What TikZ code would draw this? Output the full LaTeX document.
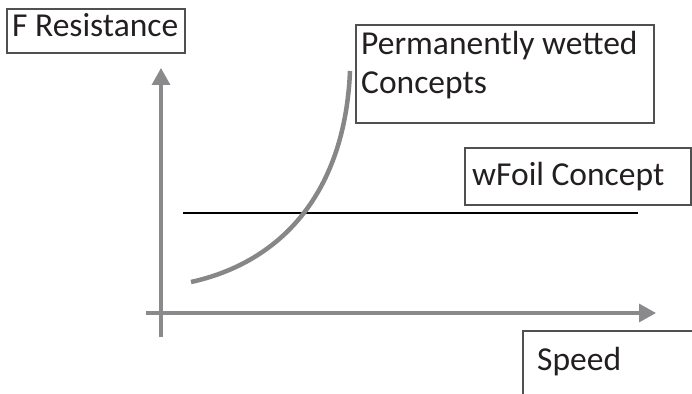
\documentclass[tikz,border=0pt]{standalone}
\usepackage{fontspec}
\setmainfont{Carlito}
\usetikzlibrary{arrows.meta}
\definecolor{axisgray}{HTML}{8A8A8C}
\definecolor{curvegray}{HTML}{87878A}
\definecolor{boxline}{HTML}{505050}
\definecolor{txtcol}{HTML}{231F20}
\tikzset{
  box/.style={draw=boxline, line width=1.4pt, inner sep=0pt},
  lbl/.style={inner sep=0pt, text=txtcol, font=\fontsize{33.5}{38}\selectfont, align=left},
  axis/.style={draw=axisgray, line width=3.2pt, -{Triangle[length=17pt,width=18pt]}},
}
\begin{document}
\begin{tikzpicture}[x=1pt,y=-1pt]
\useasboundingbox (0,0) rectangle (692,393);
\clip (0,0) rectangle (692,393);
% boxes
\coordinate (fr1) at (7,9);   \coordinate (fr2) at (185,53);
\coordinate (pw1) at (356,25); \coordinate (pw2) at (654,123);
\coordinate (wf1) at (465,148); \coordinate (wf2) at (691,205);
\coordinate (sp1) at (523,331); \coordinate (sp2) at (720,420);
\draw[box] (fr1) rectangle (fr2);
\draw[box] (pw1) rectangle (pw2);
\draw[box] (wf1) rectangle (wf2);
\draw[box] (sp1) rectangle (sp2);
% labels
\node[lbl, anchor=base west] (fres) at (12,37) {F Resistance};
\node[lbl, anchor=base west] (perm) at (361,55) {Permanently wetted};
\node[lbl, anchor=base west] (conc) at (361,93) {Concepts};
\node[lbl, anchor=base west] (wfoil) at (472,185) {wFoil Concept};
\node[lbl, anchor=base west] (speed) at (537,370) {Speed};
% axes
\coordinate (yb) at (161,337); \coordinate (yt) at (161,68);
\coordinate (xl) at (146,313); \coordinate (xr) at (656,313);
\draw[axis] (yb) -- (yt);
\draw[axis] (xl) -- (xr);
% wFoil line
\coordinate (h1) at (183,213); \coordinate (h2) at (638,213);
\draw[black, line width=2.8pt] (h1) -- (h2);
% permanently wetted curve
\coordinate (c1) at (191,282); \coordinate (c2) at (350,71);
\draw[curvegray, line width=4.5pt] (c1) .. controls (282,262) and (345,192) .. (c2);
\end{tikzpicture}
\end{document}
